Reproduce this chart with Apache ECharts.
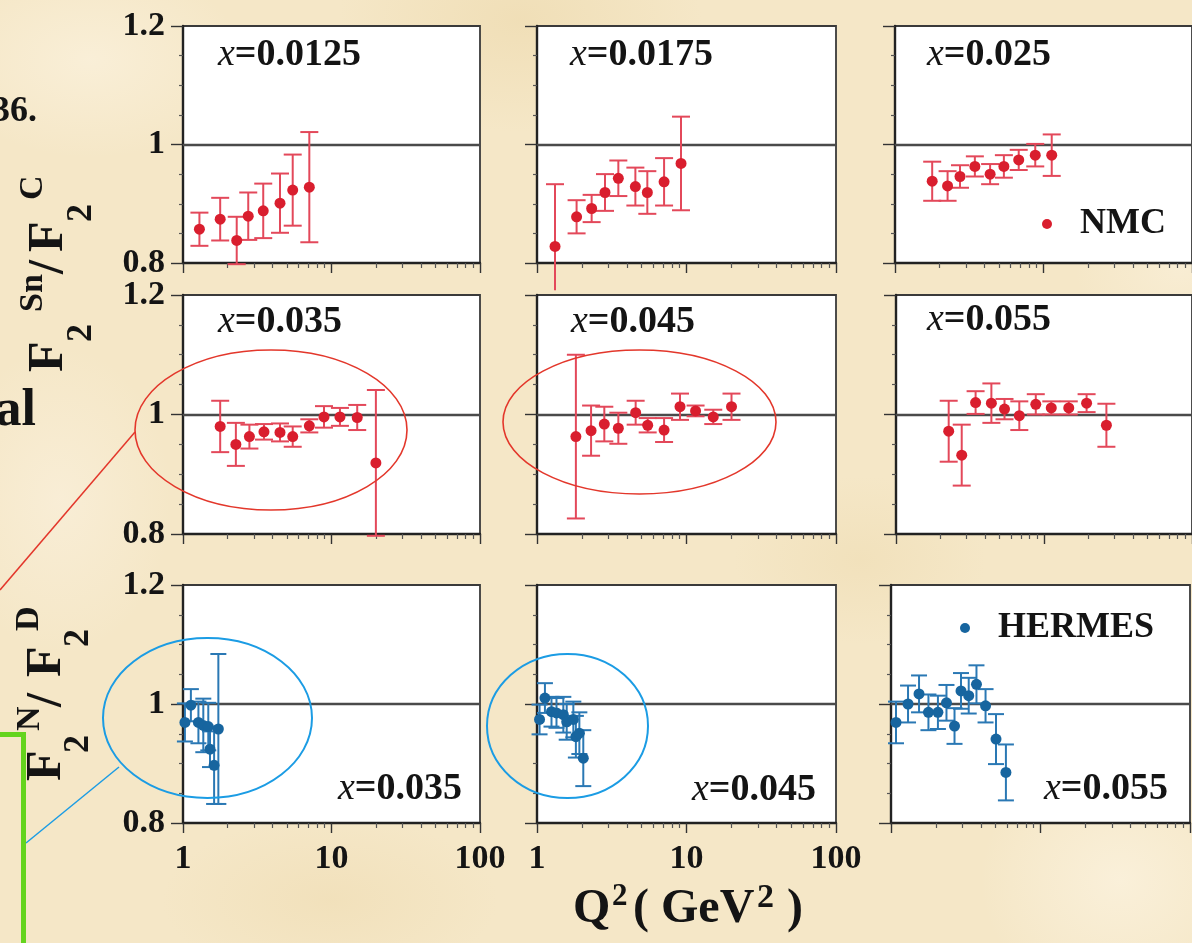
<!DOCTYPE html>
<html>
<head>
<meta charset="utf-8">
<script src="https://cdn.jsdelivr.net/npm/echarts@6/dist/echarts.min.js"></script>
<style>
  html, body { margin: 0; padding: 0; background: #f5e7c7; }
  #chart {
    width: 1192px; height: 943px;
    background-color: #f5e7c7;
    background-image:
      radial-gradient(ellipse 220px 140px at 90px 60px, rgba(250, 240, 218, 0.85), rgba(250, 240, 218, 0) 70%),
      radial-gradient(ellipse 260px 160px at 520px 20px, rgba(238, 219, 176, 0.7), rgba(238, 219, 176, 0) 70%),
      radial-gradient(ellipse 200px 180px at 1120px 880px, rgba(251, 242, 222, 0.8), rgba(251, 242, 222, 0) 70%),
      radial-gradient(ellipse 240px 120px at 330px 900px, rgba(240, 222, 182, 0.7), rgba(240, 222, 182, 0) 70%),
      radial-gradient(ellipse 160px 220px at 60px 500px, rgba(250, 240, 220, 0.7), rgba(250, 240, 220, 0) 70%),
      radial-gradient(ellipse 180px 120px at 860px 560px, rgba(239, 221, 180, 0.6), rgba(239, 221, 180, 0) 70%),
      radial-gradient(ellipse 150px 100px at 1180px 270px, rgba(249, 238, 214, 0.8), rgba(249, 238, 214, 0) 70%);
  }
</style>
</head>
<body>
<div id="chart"></div>
<script>
// ---- NMC: F2(Sn)/F2(C) ----
const nmc0125Q2  = [1.29, 1.78, 2.30, 2.75, 3.47, 4.50, 5.48, 7.09];
const nmc0125R   = [0.857, 0.874, 0.838, 0.879, 0.888, 0.901, 0.923, 0.928];
const nmc0125Err = [0.028, 0.036, 0.040, 0.040, 0.046, 0.050, 0.060, 0.093];

const nmc0175Q2  = [1.32, 1.84, 2.32, 2.85, 3.50, 4.55, 5.47, 7.08, 9.19];
const nmc0175R   = [0.828, 0.878, 0.892, 0.919, 0.943, 0.929, 0.919, 0.937, 0.968];
const nmc0175Err = [0.105, 0.028, 0.023, 0.031, 0.030, 0.032, 0.036, 0.040, 0.079];
const nmc0175ErrLow = [0.074, 0.028, 0.023, 0.031, 0.030, 0.032, 0.036, 0.040, 0.079];

const nmc025Q2  = [1.78, 2.26, 2.74, 3.45, 4.37, 5.41, 6.81, 8.80, 11.36];
const nmc025R   = [0.938, 0.930, 0.946, 0.963, 0.950, 0.963, 0.974, 0.982, 0.982];
const nmc025Err = [0.033, 0.025, 0.019, 0.017, 0.017, 0.019, 0.017, 0.019, 0.035];

const nmc035Q2  = [1.78, 2.27, 2.80, 3.51, 4.50, 5.48, 7.09, 8.90, 11.4, 14.9, 19.9];
const nmc035R   = [0.980, 0.950, 0.963, 0.971, 0.970, 0.963, 0.981, 0.996, 0.996, 0.995, 0.919];
const nmc035Err = [0.043, 0.036, 0.020, 0.013, 0.015, 0.017, 0.011, 0.018, 0.015, 0.021, 0.122];

const nmc045Q2  = [1.82, 2.30, 2.82, 3.50, 4.57, 5.50, 7.08, 9.05, 11.5, 15.1, 20.0];
const nmc045R   = [0.963, 0.973, 0.984, 0.977, 1.003, 0.982, 0.974, 1.013, 1.006, 0.996, 1.013];
const nmc045Err = [0.137, 0.042, 0.029, 0.026, 0.020, 0.012, 0.020, 0.022, 0.009, 0.012, 0.022];

const nmc055Q2  = [2.27, 2.78, 3.45, 4.41, 5.41, 6.81, 8.80, 11.2, 14.7, 19.4, 26.4];
const nmc055R   = [0.972, 0.932, 1.020, 1.019, 1.009, 0.998, 1.017, 1.011, 1.011, 1.019, 0.982];
const nmc055Err = [0.051, 0.051, 0.019, 0.033, 0.017, 0.024, 0.017, 0.011, 0.011, 0.015, 0.036];

// ---- HERMES: F2(N)/F2(D) ----
const her035Q2  = [1.03, 1.13, 1.27, 1.37, 1.48, 1.52, 1.62, 1.73];
const her035R   = [0.969, 0.998, 0.969, 0.964, 0.962, 0.924, 0.897, 0.958];
const her035Err = [0.032, 0.027, 0.035, 0.045, 0.040, 0.030, 0.065, 0.126];

const her045Q2  = [1.04, 1.13, 1.25, 1.35, 1.50, 1.58, 1.75, 1.82, 1.92, 2.04];
const her045R   = [0.974, 1.010, 0.987, 0.985, 0.982, 0.970, 0.974, 0.945, 0.951, 0.909];
const her045Err = [0.025, 0.025, 0.025, 0.025, 0.030, 0.030, 0.030, 0.035, 0.035, 0.047];

const her055Q2  = [1.08, 1.30, 1.54, 1.78, 2.06, 2.35, 2.66, 2.94, 3.31, 3.73, 4.29, 5.04, 5.87];
const her055R   = [0.969, 1.000, 1.017, 0.986, 0.986, 1.002, 0.963, 1.022, 1.014, 1.033, 0.997, 0.941, 0.885];
const her055Err = [0.035, 0.031, 0.031, 0.030, 0.028, 0.030, 0.030, 0.030, 0.030, 0.032, 0.028, 0.042, 0.047];

// axis ticks
const yTicks = [0.8, 1, 1.2];
const xMajorTicks = [1, 10, 100];
const xMinorTicks = [2, 3, 4, 5, 6, 7, 8, 9, 20, 30, 40, 50, 60, 70, 80, 90];
const panelLabels = ['0.0125', '0.0175', '0.025', '0.035', '0.045', '0.055', '0.035', '0.045', '0.055'];

const NMC_RED = '#d91e2e', NMC_BAR = '#e3485a';
const HER_BLUE = '#17659f', HER_BAR = '#2a78b4';
const SERIF = '"Liberation Serif", "Times New Roman", serif';
const INK = '#141414';

const panels = [
  { set: 'NMC', q2: nmc0125Q2, r: nmc0125R, err: nmc0125Err },
  { set: 'NMC', q2: nmc0175Q2, r: nmc0175R, err: nmc0175Err, errLow: nmc0175ErrLow },
  { set: 'NMC', q2: nmc025Q2, r: nmc025R, err: nmc025Err },
  { set: 'NMC', q2: nmc035Q2, r: nmc035R, err: nmc035Err },
  { set: 'NMC', q2: nmc045Q2, r: nmc045R, err: nmc045Err },
  { set: 'NMC', q2: nmc055Q2, r: nmc055R, err: nmc055Err },
  { set: 'HERMES', q2: her035Q2, r: her035R, err: her035Err },
  { set: 'HERMES', q2: her045Q2, r: her045R, err: her045Err },
  { set: 'HERMES', q2: her055Q2, r: her055R, err: her055Err }
];

// frame geometry (pixels)
const colLeft = [[183, 537, 895], [183, 537, 896], [183, 537, 891]];
const colWidth = [297, 299, 299];
const rowTop = [26, 295, 585];
const rowHeight = [237, 239, 238];

const grids = [], xAxes = [], xMinorAxes = [], yAxes = [], series = [];

panels.forEach((p, i) => {
  const row = Math.floor(i / 3), col = i % 3;
  grids.push({
    left: colLeft[row][col], top: rowTop[row], width: colWidth[col], height: rowHeight[row],
    show: true, backgroundColor: '#ffffff', borderColor: '#3a3a3a', borderWidth: 1.8, containLabel: false
  });
  xAxes.push({
    type: 'log', logBase: 10, min: 1, max: 100, gridIndex: i, position: 'bottom',
    axisLine: { show: true, lineStyle: { color: '#222', width: 2.4 } },
    axisTick: { show: true, length: 10, customValues: xMajorTicks, lineStyle: { color: '#333', width: 1.4 } },
    axisLabel: {
      show: row === 2 && col < 2, customValues: xMajorTicks, margin: 19,
      formatter: v => String(Math.round(v)),
      fontFamily: SERIF, fontWeight: 'bold', fontSize: 34, color: INK
    },
    splitLine: { show: false }, minorTick: { show: false }
  });
  xMinorAxes.push({
    type: 'log', logBase: 10, min: 1, max: 100, gridIndex: i, position: 'bottom',
    axisLine: { show: false },
    axisTick: { show: true, length: 5, customValues: xMinorTicks, lineStyle: { color: '#555', width: 1.2 } },
    axisLabel: { show: false }, splitLine: { show: false }
  });
  yAxes.push({
    type: 'value', min: 0.8, max: 1.2, interval: 0.2, gridIndex: i,
    axisLine: { show: true, lineStyle: { color: '#222', width: 2.4 } },
    axisTick: { show: true, length: 12, lineStyle: { color: '#333', width: 1.4 } },
    minorTick: { show: true, splitNumber: 4, length: 4, lineStyle: { color: '#555', width: 1.2 } },
    axisLabel: {
      show: col === 0, margin: 18,
      formatter: v => (Math.abs(v - 1) < 1e-9 ? '1' : v.toFixed(1)),
      fontFamily: SERIF, fontWeight: 'bold', fontSize: 34, color: INK
    },
    splitLine: { show: false }
  });

  const isNMC = p.set === 'NMC';
  const dot = isNMC ? NMC_RED : HER_BLUE;
  const bar = isNMC ? NMC_BAR : HER_BAR;
  const capW = isNMC ? 18 : 16;
  const low = p.errLow || p.err;

  series.push({
    type: 'custom', name: p.set + ' error', xAxisIndex: i, yAxisIndex: i, silent: true, z: 3,
    data: p.q2.map((q, k) => [q, p.r[k] - low[k], p.r[k] + p.err[k]]),
    encode: { x: 0, y: [1, 2] },
    renderItem(params, api) {
      const q = api.value(0);
      const pLo = api.coord([q, api.value(1)]);
      const pHi = api.coord([q, api.value(2)]);
      const cs = params.coordSys;
      const st = { stroke: bar, lineWidth: 2 };
      const kids = [{ type: 'line', shape: { x1: pLo[0], y1: pLo[1], x2: pHi[0], y2: pHi[1] }, style: st }];
      if (pHi[1] >= cs.y - 4) kids.push({ type: 'line', shape: { x1: pHi[0] - capW / 2, y1: pHi[1], x2: pHi[0] + capW / 2, y2: pHi[1] }, style: st });
      if (pLo[1] <= cs.y + cs.height + 4) kids.push({ type: 'line', shape: { x1: pLo[0] - capW / 2, y1: pLo[1], x2: pLo[0] + capW / 2, y2: pLo[1] }, style: st });
      return { type: 'group', children: kids };
    }
  });
  series.push({
    type: 'scatter', name: p.set, xAxisIndex: i, yAxisIndex: i, z: 4,
    symbol: 'circle', symbolSize: 11, itemStyle: { color: dot, opacity: 1 },
    data: p.q2.map((q, k) => [q, p.r[k]]),
    markLine: {
      silent: true, symbol: 'none', label: { show: false }, z: 1,
      lineStyle: { color: '#4a4a4a', width: 2.4, type: 'solid' },
      data: [{ yAxis: 1 }]
    }
  });
});

// panel labels "x=..."
const labelPos = [
  [218, 55, 'left'], [570, 55, 'left'], [927, 55, 'left'],
  [218, 322, 'left'], [571, 322, 'left'], [927, 320, 'left'],
  [462, 789, 'right'], [816, 790, 'right'], [1168, 789, 'right']
];
const richLabel = {
  i: { fontFamily: SERIF, fontStyle: 'italic', fontWeight: 'normal', fontSize: 38, fill: INK },
  b: { fontFamily: SERIF, fontWeight: 'bold', fontSize: 38, fill: INK }
};
const labelGraphics = panelLabels.map((t, i) => ({
  type: 'text', x: labelPos[i][0], y: labelPos[i][1], z: 20,
  style: { text: '{i|x}{b|=' + t + '}', rich: richLabel, align: labelPos[i][2], verticalAlign: 'middle' }
}));

// rotated axis titles built from pieces: [text, along, across, size]
function rotTitle(x0, y0, pieces) {
  return {
    type: 'group', x: x0, y: y0, rotation: Math.PI / 2, z: 20,
    children: pieces.map(p => ({
      type: 'text', x: p[1], y: p[2],
      style: { text: p[0], font: 'bold ' + p[3] + 'px ' + SERIF, fill: INK, align: 'left', verticalAlign: 'middle' }
    }))
  };
}
function plainText(t, x, y, size, align) {
  return {
    type: 'text', x: x, y: y, z: 20,
    style: { text: t, font: 'bold ' + size + 'px ' + SERIF, fill: INK, align: align || 'left', verticalAlign: 'middle' }
  };
}

const graphics = [
  // side notes cut at the edge
  plainText('36.', 37, 112, 36, 'right'),
  plainText('al', 36, 412, 52, 'right'),
  // y titles
  rotTitle(49, 372, [['F', 0, 0, 50], ['2', 30, 33, 36], ['Sn', 60, -16, 34], ['/', 98, 0, 50], ['F', 120, 0, 50], ['2', 150, 33, 36], ['C', 172, -16, 34]]),
  rotTitle(47, 781, [['F', 0, 0, 50], ['2', 28, 32, 36], ['N', 50, -17, 34], ['/', 74, 0, 50], ['F', 104, 0, 50], ['2', 134, 32, 36], ['D', 150, -18, 34]]),
  // x title
  plainText('Q', 573, 910, 48, 'left'),
  plainText('2', 612, 897, 31, 'left'),
  plainText('( GeV', 633, 910, 48, 'left'),
  plainText('2', 757, 898, 34, 'left'),
  plainText(' )', 775, 910, 48, 'left'),
  // highlight ellipses
  { type: 'ellipse', z: 30, shape: { cx: 271, cy: 430, rx: 136, ry: 80 }, style: { fill: 'none', stroke: '#e3372b', lineWidth: 1.6 } },
  { type: 'ellipse', z: 30, shape: { cx: 639.5, cy: 422, rx: 136.5, ry: 72 }, style: { fill: 'none', stroke: '#e3372b', lineWidth: 1.6 } },
  { type: 'ellipse', z: 30, shape: { cx: 207.5, cy: 718, rx: 104.5, ry: 80 }, style: { fill: 'none', stroke: '#1b9ce4', lineWidth: 2 } },
  { type: 'ellipse', z: 30, shape: { cx: 567.5, cy: 726, rx: 80.5, ry: 72 }, style: { fill: 'none', stroke: '#1b9ce4', lineWidth: 2 } },
  // leader lines
  { type: 'line', z: 30, shape: { x1: 0, y1: 590, x2: 135, y2: 432 }, style: { stroke: '#e3372b', lineWidth: 1.5 } },
  { type: 'line', z: 30, shape: { x1: 26, y1: 843, x2: 119, y2: 767 }, style: { stroke: '#1b9ce4', lineWidth: 1.5 } },
  // green frame edge
  { type: 'polyline', z: 30, shape: { points: [[0, 734.5], [23.5, 734.5], [23.5, 943]] }, style: { fill: 'none', stroke: '#64d41e', lineWidth: 5 } }
].concat(labelGraphics);

const chart = echarts.init(document.getElementById('chart'), null, { renderer: 'canvas' });
chart.setOption({
  backgroundColor: 'transparent',
  animation: false,
  grid: grids,
  xAxis: xAxes.concat(xMinorAxes),
  yAxis: yAxes,
  legend: [
    {
      data: ['NMC'], left: 1037, top: 201, icon: 'circle', itemWidth: 56, itemHeight: 10,
      textStyle: { fontFamily: SERIF, fontWeight: 'bold', fontSize: 36, color: INK }, selectedMode: false
    },
    {
      data: ['HERMES'], left: 955, top: 605, icon: 'circle', itemWidth: 56, itemHeight: 10,
      textStyle: { fontFamily: SERIF, fontWeight: 'bold', fontSize: 36, color: INK }, selectedMode: false
    }
  ],
  series: series,
  graphic: graphics
});
</script>
</body>
</html>
